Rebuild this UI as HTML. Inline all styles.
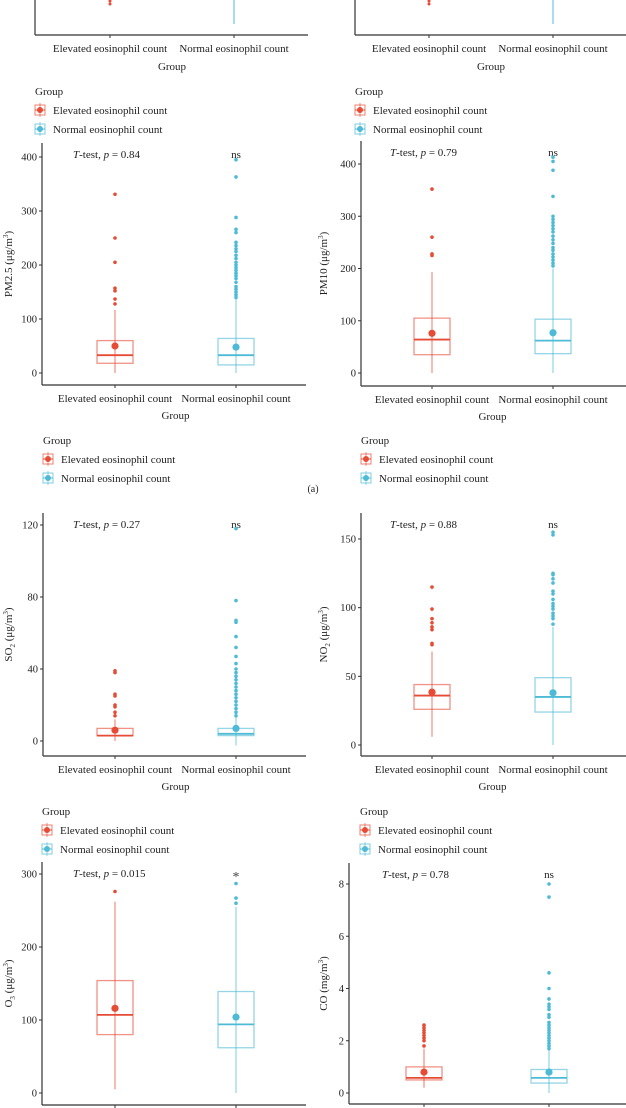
<!DOCTYPE html>
<html><head><meta charset="utf-8">
<style>
html,body{margin:0;padding:0;background:#fff;}
svg{display:block;font-family:"Liberation Serif",serif;}
</style></head>
<body>
<svg id="fig" width="626" height="1108" viewBox="0 0 626 1108" xmlns="http://www.w3.org/2000/svg"></svg>
<script>
// ===== data (box: [lower whisker, q1, median, q3, upper whisker]) =====
const groups = ["Elevated eosinophil count", "Normal eosinophil count"];

const pm25ElevBox = [0, 18, 33, 60, 117];
const pm25ElevMean = 50;
const pm25ElevOut = [128, 137, 152, 157, 205, 250, 331];
const pm25NormBox = [0, 15, 33, 64, 137];
const pm25NormMean = 48;
const pm25NormOut = [140,145,150,155,160,168,175,180,185,190,195,200,205,212,218,225,230,236,242,260,266,288,363,395];
const pm25Ticks = [0, 100, 200, 300, 400];

const pm10ElevBox = [0, 35, 64, 105, 193];
const pm10ElevMean = 76;
const pm10ElevOut = [225, 228, 260, 352];
const pm10NormBox = [0, 37, 62, 103, 200];
const pm10NormMean = 77;
const pm10NormOut = [205,210,216,222,228,235,240,248,255,262,270,276,282,288,294,300,338,388,405,413];
const pm10Ticks = [0, 100, 200, 300, 400];

const so2ElevBox = [0, 3, 3, 7, 12];
const so2ElevMean = 6;
const so2ElevOut = [14, 16, 19, 20, 25, 26, 38, 39];
const so2NormBox = [-2.5, 3, 4, 7, 13];
const so2NormMean = 7;
const so2NormOut = [14,16,18,20,22,24,26,28,30,32,34,36,38,40,43,47,52,58,66,67,78,118];
const so2Ticks = [0, 40, 80, 120];

const no2ElevBox = [6, 26, 36, 44, 68];
const no2ElevMean = 38.5;
const no2ElevOut = [73, 74, 84, 86, 89, 92, 99, 115];
const no2NormBox = [0, 24, 35, 49, 86];
const no2NormMean = 38;
const no2NormOut = [88,92,94,96,99,101,103,106,110,112,118,121,124,125,153,155];
const no2Ticks = [0, 50, 100, 150];

const o3ElevBox = [5, 80, 107, 154, 262];
const o3ElevMean = 116;
const o3ElevOut = [276];
const o3NormBox = [0, 62, 94, 139, 255];
const o3NormMean = 104;
const o3NormOut = [260, 267, 287];
const o3Ticks = [0, 100, 200, 300];

const coElevBox = [0.2, 0.5, 0.58, 1.0, 1.7];
const coElevMean = 0.8;
const coElevOut = [1.8, 2.0, 2.1, 2.2, 2.3, 2.4, 2.5, 2.6];
const coNormBox = [0, 0.38, 0.58, 0.9, 1.65];
const coNormMean = 0.8;
const coNormOut = [1.7,1.8,1.9,2.0,2.1,2.2,2.3,2.4,2.5,2.6,2.7,2.9,3.0,3.2,3.3,3.4,3.6,4.0,4.6,7.5,8.0];
const coTicks = [0, 2, 4, 6, 8];

const pLabels = ["0.84", "0.79", "0.27", "0.88", "0.015", "0.78"];
const sigLabels = ["ns", "ns", "ns", "ns", "*", "ns"];

const RED = "#E64B35", BLUE = "#4DBBD5";
const NS = "http://www.w3.org/2000/svg";
const svg = document.getElementById("fig");

function mk(tag, attrs, parent, text) {
  const e = document.createElementNS(NS, tag);
  for (const k in attrs) e.setAttribute(k, attrs[k]);
  if (text !== undefined) e.textContent = text;
  (parent || svg).appendChild(e);
  return e;
}

function panel(cfg) {
  const g = mk("g", {});
  
  
  const ax = cfg.axX, y0 = cfg.y0, yT = cfg.yTop, xb = cfg.xAxisY;
  const tMax = cfg.ticks[cfg.ticks.length - 1];
  const ys = v => y0 - (v / tMax) * (y0 - cfg.yTickMax);
  const cx = [cfg.c1, cfg.c2];
  const yl = mk("line", {x1: ax, y1: yT, x2: ax, y2: xb, stroke: "#333", "stroke-width": 1.2}, g);
  
  
  const xl = mk("line", {x1: ax, y1: xb, x2: cfg.axEnd, y2: xb, stroke: "#333", "stroke-width": 1.2}, g);
  
  
  cfg.ticks.forEach(t => {
    const y = ys(t);
    mk("line", {x1: ax - 3, y1: y, x2: ax, y2: y, stroke: "#333", "stroke-width": 1}, g);
    const tl = mk("text", {x: ax - 5, y: y + 3.5, "font-size": 10.5, "text-anchor": "end", fill: "#222"}, g, t);
    
    
  });
  groups.forEach((nm, i) => {
    mk("line", {x1: cx[i], y1: xb, x2: cx[i], y2: xb + 3, stroke: "#333", "stroke-width": 1}, g);
    if (cfg.xLabels) {
      const xt = mk("text", {x: cx[i], y: xb + 17, "font-size": 11, "text-anchor": "middle", fill: "#222"}, g, nm);
      
      
    }
  });
  if (cfg.xLabels) {
    const gt = mk("text", {x: (cx[0] + cx[1]) / 2, y: xb + 34, "font-size": 11, "text-anchor": "middle", fill: "#222"}, g, "Group");
    
    
  }
  const ty = (yT + xb) / 2;
  const yt = mk("text", {x: cfg.titleX, y: ty, "font-size": 11, "text-anchor": "middle", fill: "#222", transform: `rotate(-90 ${cfg.titleX} ${ty})`}, g);
  
  
  yt.innerHTML = cfg.titleHTML;
  const an = mk("text", {x: cx[0] - 42, y: yT + 15, "font-size": 11, fill: "#222"}, g);
  
  
  an.innerHTML = `<tspan font-style="italic">T</tspan>-test, <tspan font-style="italic">p</tspan> = ${cfg.p}`;
  const isStar = cfg.sig === "*";
  const ns = mk("text", {x: cx[1], y: isStar ? ys(tMax) + 7 : yT + 15, "font-size": isStar ? 14 : 11, "text-anchor": "middle", fill: isStar ? "#444" : "#222"}, g, cfg.sig);
  
  
  const series = [
    {box: cfg.eBox, mean: cfg.eMean, out: cfg.eOut, col: RED, n: "elevated"},
    {box: cfg.nBox, mean: cfg.nMean, out: cfg.nOut, col: BLUE, n: "normal"}
  ];
  series.forEach((s, i) => {
    const c = cx[i], hw = 18;
    const sg = mk("g", {}, g);
    
    
    mk("line", {x1: c, y1: ys(s.box[0]), x2: c, y2: ys(s.box[4]), stroke: s.col, "stroke-width": 1, "stroke-opacity": 0.75}, sg);
    mk("rect", {x: c - hw, y: ys(s.box[3]), width: 2 * hw, height: ys(s.box[1]) - ys(s.box[3]), fill: "none", stroke: s.col, "stroke-width": 1.3, "stroke-opacity": 0.6}, sg);
    mk("line", {x1: c - hw, y1: ys(s.box[2]), x2: c + hw, y2: ys(s.box[2]), stroke: s.col, "stroke-width": 1.8}, sg);
    s.out.forEach(v => {
      const o = mk("circle", {cx: c, cy: ys(v), r: 1.8, fill: s.col}, sg);
      
      
    });
    const m = mk("circle", {cx: c, cy: ys(s.mean), r: 3.6, fill: s.col}, sg);
    
    
  });
}

function legend(x, y, name) {
  const g = mk("g", {});
  
  
  mk("text", {x: x, y: y, "font-size": 11, fill: "#222"}, g, "Group");
  [[RED, groups[0]], [BLUE, groups[1]]].forEach((e, i) => {
    const cy = y + 15 + i * 19;
    const eg = mk("g", {}, g);
    
    
    mk("rect", {x: x, y: cy - 5, width: 10, height: 10, fill: "none", stroke: e[0], "stroke-width": 1, "stroke-opacity": 0.7}, eg);
    mk("line", {x1: x, y1: cy, x2: x + 10, y2: cy, stroke: e[0], "stroke-width": 1}, eg);
    mk("line", {x1: x + 5, y1: cy - 7, x2: x + 5, y2: cy + 7, stroke: e[0], "stroke-width": 1, "stroke-opacity": 0.6}, eg);
    mk("circle", {cx: x + 5, cy: cy, r: 3, fill: e[0]}, eg);
    mk("text", {x: x + 18, y: cy + 4, "font-size": 11, fill: "#222"}, eg, e[1]);
  });
}

function topFrag(ax, axEnd, c1, c2, name) {
  const g = mk("g", {});
  
  
  mk("line", {x1: ax, y1: 0, x2: ax, y2: 35, stroke: "#333", "stroke-width": 1.2}, g);
  mk("line", {x1: ax, y1: 35, x2: axEnd, y2: 35, stroke: "#333", "stroke-width": 1.2}, g);
  [c1, c2].forEach((c, i) => {
    mk("line", {x1: c, y1: 35, x2: c, y2: 38, stroke: "#333"}, g);
    mk("text", {x: c, y: 52, "font-size": 11, "text-anchor": "middle", fill: "#222"}, g, groups[i]);
  });
  mk("text", {x: (c1 + c2) / 2, y: 70, "font-size": 11, "text-anchor": "middle", fill: "#222"}, g, "Group");
  mk("circle", {cx: c1, cy: 1, r: 1.5, fill: RED}, g);
  mk("circle", {cx: c1, cy: 4, r: 1.5, fill: RED}, g);
  mk("line", {x1: c2, y1: 0, x2: c2, y2: 24, stroke: BLUE, "stroke-width": 1}, g);
}
topFrag(35, 308, 110, 234, "top-left-panel-fragment");
topFrag(355, 626, 429, 553, "top-right-panel-fragment");
legend(35, 95, "legend-top-left");
legend(355, 95, "legend-top-right");

panel({name: "pm25", axX: 42, axEnd: 306, yTop: 143, xAxisY: 385, y0: 373, yTickMax: 157, ticks: pm25Ticks, c1: 115, c2: 236, titleX: 12, titleHTML: 'PM2.5 (μg/m<tspan font-size="7" dy="-4">3</tspan><tspan dy="4">)</tspan>', p: pLabels[0], sig: sigLabels[0], eBox: pm25ElevBox, eMean: pm25ElevMean, eOut: pm25ElevOut, nBox: pm25NormBox, nMean: pm25NormMean, nOut: pm25NormOut, xLabels: true});
panel({name: "pm10", axX: 361, axEnd: 626, yTop: 141, xAxisY: 386, y0: 373, yTickMax: 164, ticks: pm10Ticks, c1: 432, c2: 553, titleX: 327, titleHTML: 'PM10 (μg/m<tspan font-size="7" dy="-4">3</tspan><tspan dy="4">)</tspan>', p: pLabels[1], sig: sigLabels[1], eBox: pm10ElevBox, eMean: pm10ElevMean, eOut: pm10ElevOut, nBox: pm10NormBox, nMean: pm10NormMean, nOut: pm10NormOut, xLabels: true});
legend(43, 444, "legend-pm25");
legend(361, 444, "legend-pm10");
const lblA = mk("text", {x: 313, y: 492, "font-size": 10, "text-anchor": "middle", fill: "#222"}, svg, "(a)");



panel({name: "so2", axX: 43, axEnd: 306, yTop: 513, xAxisY: 756, y0: 741, yTickMax: 525, ticks: so2Ticks, c1: 115, c2: 236, titleX: 12, titleHTML: 'SO<tspan font-size="7" dy="3">2</tspan><tspan dy="-3"> (μg/m</tspan><tspan font-size="7" dy="-4">3</tspan><tspan dy="4">)</tspan>', p: pLabels[2], sig: sigLabels[2], eBox: so2ElevBox, eMean: so2ElevMean, eOut: so2ElevOut, nBox: so2NormBox, nMean: so2NormMean, nOut: so2NormOut, xLabels: true});
panel({name: "no2", axX: 361, axEnd: 626, yTop: 513, xAxisY: 756, y0: 745, yTickMax: 539, ticks: no2Ticks, c1: 432, c2: 553, titleX: 327, titleHTML: 'NO<tspan font-size="7" dy="3">2</tspan><tspan dy="-3"> (μg/m</tspan><tspan font-size="7" dy="-4">3</tspan><tspan dy="4">)</tspan>', p: pLabels[3], sig: sigLabels[3], eBox: no2ElevBox, eMean: no2ElevMean, eOut: no2ElevOut, nBox: no2NormBox, nMean: no2NormMean, nOut: no2NormOut, xLabels: true});
legend(42, 815, "legend-so2");
legend(360, 815, "legend-no2");

panel({name: "o3", axX: 42, axEnd: 306, yTop: 862, xAxisY: 1105, y0: 1093, yTickMax: 874, ticks: o3Ticks, c1: 115, c2: 236, titleX: 12, titleHTML: 'O<tspan font-size="7" dy="3">3</tspan><tspan dy="-3"> (μg/m</tspan><tspan font-size="7" dy="-4">3</tspan><tspan dy="4">)</tspan>', p: pLabels[4], sig: sigLabels[4], eBox: o3ElevBox, eMean: o3ElevMean, eOut: o3ElevOut, nBox: o3NormBox, nMean: o3NormMean, nOut: o3NormOut, xLabels: false});
panel({name: "co", axX: 349, axEnd: 626, yTop: 863, xAxisY: 1104, y0: 1093, yTickMax: 884, ticks: coTicks, c1: 424, c2: 549, titleX: 327, titleHTML: 'CO (mg/m<tspan font-size="7" dy="-4">3</tspan><tspan dy="4">)</tspan>', p: pLabels[5], sig: sigLabels[5], eBox: coElevBox, eMean: coElevMean, eOut: coElevOut, nBox: coNormBox, nMean: coNormMean, nOut: coNormOut, xLabels: false});
</script>
</body></html>
